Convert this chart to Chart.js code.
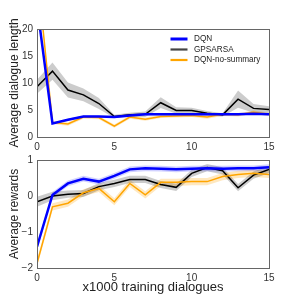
<!DOCTYPE html>
<html>
<head>
<meta charset="utf-8">
<script src="https://cdn.jsdelivr.net/npm/chart.js@4.4.0/dist/chart.umd.min.js"></script>
<style>
  html, body { margin: 0; padding: 0; background: #fff; }
  #wrap { position: relative; width: 299px; height: 299px; }
  #wrap canvas { position: absolute; left: 0; top: 0; }
</style>
</head>
<body>
<div id="wrap">
  <canvas id="lenChart" width="299" height="299"></canvas>
  <canvas id="rewChart" width="299" height="299"></canvas>
</div>
<script>
// x axis: thousands of training dialogues
const steps = [0, 1, 2, 3, 4, 5, 6, 7, 8, 9, 10, 11, 12, 13, 14, 15];

// Average dialogue length
const lenDQN      = [24.4, 2.5, 3.2, 3.8, 3.8, 3.7, 4.0, 4.2, 4.2, 4.2, 4.2, 4.2, 4.2, 4.2, 4.3, 4.2];
const lenGP       = [9.3, 12.2, 8.7, 7.8, 6.2, 3.8, 4.1, 4.2, 6.35, 4.9, 4.9, 4.4, 4.1, 7.0, 5.3, 5.1];
const lenNoSum    = [31.0, 2.7, 2.4, 3.7, 3.6, 2.0, 3.7, 3.3, 3.8, 3.9, 4.0, 3.7, 4.2, 4.1, 4.6, 4.2];
const lenDQNErr   = [0.3, 0.2, 0.2, 0.2, 0.2, 0.2, 0.2, 0.2, 0.2, 0.2, 0.2, 0.2, 0.2, 0.2, 0.2, 0.2];
const lenGPErr    = [1.3, 1.6, 1.4, 1.2, 1.0, 0.3, 0.4, 0.5, 1.0, 0.6, 0.5, 0.4, 0.3, 1.6, 0.8, 0.6];
const lenNoSumErr = [0.4, 0.3, 0.3, 0.3, 0.3, 0.3, 0.3, 0.3, 0.3, 0.3, 0.3, 0.3, 0.3, 0.3, 0.3, 0.3];

// Average rewards
const rewDQN      = [-1.41, 0.03, 0.35, 0.48, 0.4, 0.56, 0.74, 0.77, 0.76, 0.74, 0.76, 0.77, 0.76, 0.77, 0.77, 0.8];
const rewGP       = [-0.16, 0.0, 0.05, 0.07, 0.26, 0.35, 0.46, 0.46, 0.32, 0.24, 0.63, 0.79, 0.7, 0.23, 0.58, 0.74];
const rewNoSum    = [-1.87, -0.3, -0.2, 0.09, 0.21, -0.16, 0.35, 0.03, 0.38, 0.38, 0.4, 0.4, 0.54, 0.6, 0.63, 0.6];
const rewDQNErr   = [0.1, 0.08, 0.08, 0.08, 0.08, 0.08, 0.08, 0.08, 0.08, 0.08, 0.08, 0.08, 0.08, 0.08, 0.08, 0.08];
const rewGPErr    = [0.14, 0.12, 0.1, 0.1, 0.1, 0.1, 0.1, 0.1, 0.1, 0.1, 0.1, 0.1, 0.1, 0.1, 0.1, 0.1];
const rewNoSumErr = [0.1, 0.1, 0.1, 0.1, 0.1, 0.1, 0.1, 0.1, 0.1, 0.1, 0.1, 0.1, 0.1, 0.1, 0.1, 0.1];

const lenTicks = [0, 5, 10, 15, 20];
const rewTicks = [-2, -1, 0, 1];
const xTicks = [0, 5, 10, 15];

const seriesNames = ['DQN', 'GPSARSA', 'DQN-no-summary'];
const lineColors = ['#0000ff', '#000000', '#ffa500'];
const bandColors = ['rgba(0,0,255,0.18)', 'rgba(0,0,0,0.2)', 'rgba(255,165,0,0.25)'];
const lineWidths = [2.5, 1.5, 1.5];

const FONT = "'Liberation Sans', Arial, sans-serif";

function pts(vals, err, sign) {
    return vals.map((v, i) => ({ x: steps[i], y: v + sign * (err ? err[i] : 0) }));
}

function buildDatasets(series, errs) {
    const ds = [];
    // bands first (upper fills down to lower)
    series.forEach((vals, k) => {
        ds.push({ data: pts(vals, errs[k], 1), borderWidth: 0, pointRadius: 0, fill: '+1',
                  backgroundColor: bandColors[k], order: 10 + k });
        ds.push({ data: pts(vals, errs[k], -1), borderWidth: 0, pointRadius: 0, fill: false,
                  backgroundColor: bandColors[k], order: 10 + k });
    });
    // lines (blue on top)
    const lineOrder = [0, 2, 1];
    series.forEach((vals, k) => {
        ds.push({ label: seriesNames[k], data: pts(vals, null, 0), borderColor: lineColors[k],
                  borderWidth: lineWidths[k], pointRadius: 0, fill: false, tension: 0,
                  order: lineOrder[k] });
    });
    return ds;
}

const boxPlugin = {
    id: 'box',
    afterDraw(chart) {
        const a = chart.chartArea, c = chart.ctx;
        c.save();
        c.strokeStyle = '#666';
        c.lineWidth = 1;
        c.strokeRect(Math.round(a.left) + 0.5, Math.round(a.top) + 0.5,
                     Math.round(a.right - a.left), Math.round(a.bottom - a.top));
        c.restore();
    }
};

const legendPlugin = {
    id: 'boxLegend',
    afterDraw(chart) {
        const c = chart.ctx;
        c.save();
        c.font = '8.2px ' + FONT;
        c.textBaseline = 'middle';
        const ys = [39, 49.5, 60];
        const legColors = ['#0000ff', '#444', '#ffa500'];
        seriesNames.forEach((name, k) => {
            c.strokeStyle = legColors[k];
            c.lineWidth = k === 0 ? 3 : 2.2;
            c.beginPath();
            c.moveTo(170.5, ys[k]);
            c.lineTo(187.5, ys[k]);
            c.stroke();
            c.fillStyle = '#222';
            c.fillText(name, 194, ys[k]);
        });
        c.restore();
    }
};

function makeOptions(yMin, yMax, yTickVals, yTitle, padding, xTitle, xHeight) {
    return {
        responsive: false,
        animation: false,
        layout: { padding: padding },
        plugins: { legend: { display: false }, tooltip: { enabled: false } },
        scales: {
            x: {
                type: 'linear', min: 0, max: 15,
                afterBuildTicks: s => { s.ticks = xTicks.map(v => ({ value: v })); },
                afterFit: s => { s.height = xHeight; },
                grid: { display: false, drawTicks: false },
                border: { display: false },
                ticks: { color: '#333', font: { size: 10, family: FONT }, padding: 4, maxRotation: 0 },
                title: { display: !!xTitle, text: xTitle || '', color: '#222',
                         font: { size: 13, family: FONT }, padding: { top: 0, bottom: 4 } }
            },
            y: {
                min: yMin, max: yMax,
                afterBuildTicks: s => { s.ticks = yTickVals.map(v => ({ value: v })); },
                afterFit: s => { s.width = 37; },
                grid: { display: false, drawTicks: false },
                border: { display: false },
                ticks: { color: '#333', font: { size: 10, family: FONT }, padding: 4,
                         callback: v => (v < 0 ? '\u2212' + Math.abs(v) : String(v)) },
                title: { display: true, text: yTitle, color: '#222',
                         font: { size: 12, family: FONT }, padding: { top: 7, bottom: 0 } }
            }
        }
    };
}

new Chart(document.getElementById('lenChart'), {
    type: 'line',
    data: { datasets: buildDatasets([lenDQN, lenGP, lenNoSum], [lenDQNErr, lenGPErr, lenNoSumErr]) },
    options: makeOptions(0, 20, lenTicks, 'Average dialogue length',
                         { left: 0, right: 30, top: 29, bottom: 148 }, null, 14),
    plugins: [boxPlugin, legendPlugin]
});

new Chart(document.getElementById('rewChart'), {
    type: 'line',
    data: { datasets: buildDatasets([rewDQN, rewGP, rewNoSum], [rewDQNErr, rewGPErr, rewNoSumErr]) },
    options: makeOptions(-2, 1, rewTicks, 'Average rewards',
                         { left: 0, right: 30, top: 160, bottom: 0 }, 'x1000 training dialogues', 31),
    plugins: [boxPlugin]
});
</script>
</body>
</html>
